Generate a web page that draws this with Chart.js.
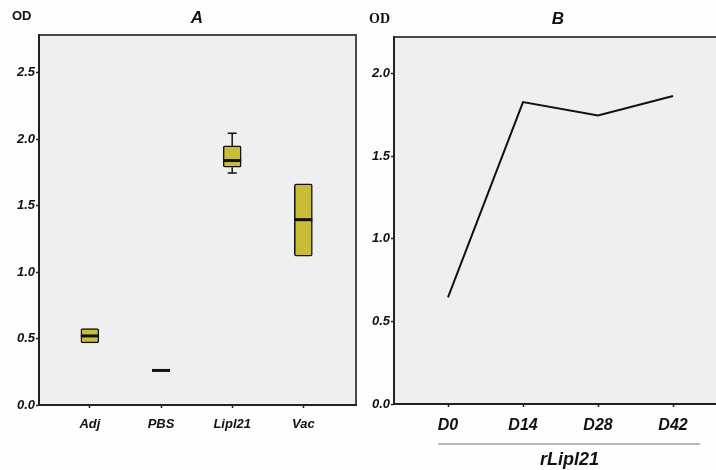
<!DOCTYPE html>
<html>
<head>
<meta charset="utf-8">
<script src="https://cdn.jsdelivr.net/npm/chart.js@4.4.0/dist/chart.umd.min.js"></script>
<style>
  html, body { margin: 0; padding: 0; background: #fdfdfd; }
  #wrap { position: relative; width: 716px; height: 470px; overflow: hidden; }
  canvas { position: absolute; top: 0; }
  #chartA { left: 0; }
  #chartB { left: 360px; }
</style>
</head>
<body>
<div id="wrap">
  <canvas id="chartA" width="360" height="470"></canvas>
  <canvas id="chartB" width="356" height="470"></canvas>
</div>
<script>
'use strict';

// Panel A: box plot summary per group
const groups = ['Adj', 'PBS', 'Lipl21', 'Vac'];
const whiskerLow = [0.468, 0.26, 1.747, 1.12];
const q1 = [0.468, 0.26, 1.79, 1.12];
const median = [0.52, 0.26, 1.84, 1.395];
const q3 = [0.575, 0.26, 1.95, 1.665];
const whiskerHigh = [0.575, 0.26, 2.045, 1.665];
const ticksA = [0, 0.5, 1.0, 1.5, 2.0, 2.5];

// Panel B: mean OD over time for rLipl21
const timepoints = ['D0', 'D14', 'D28', 'D42'];
const odMean = [0.645, 1.826, 1.745, 1.863];
const ticksB = [0, 0.5, 1.0, 1.5, 2.0];

const FONT = "'Liberation Sans', Arial, sans-serif";
const PLOT_BG = '#efefef';
const BOX_FILL = '#c9bd38';

/**
 * Fill the plot area and draw its frame
 */
const framePlugin = {
  id: 'frame',
  beforeDraw(chart, args, opts) {
    const { ctx, chartArea: a } = chart;
    ctx.save();
    ctx.fillStyle = PLOT_BG;
    ctx.fillRect(a.left, a.top, a.right - a.left, a.bottom - a.top);
    ctx.strokeStyle = '#4a4a4a';
    ctx.lineWidth = 2;
    ctx.beginPath();
    ctx.moveTo(a.left, a.bottom);
    ctx.lineTo(a.left, a.top);
    ctx.lineTo(opts.openRight ? chart.width + 5 : a.right, a.top);
    if (!opts.openRight) ctx.lineTo(a.right, a.bottom);
    ctx.stroke();
    ctx.restore();
  },
};

/**
 * Panel title and "OD" header
 */
const headerPlugin = {
  id: 'header',
  afterDraw(chart, args, opts) {
    const { ctx } = chart;
    ctx.save();
    ctx.fillStyle = '#111';
    ctx.textBaseline = 'middle';
    ctx.textAlign = 'center';
    ctx.font = `bold italic 17px ${FONT}`;
    ctx.fillText(opts.title, opts.titleX, opts.titleY);
    ctx.textAlign = 'left';
    ctx.font = opts.odFont;
    ctx.fillText('OD', opts.odX, opts.odY);
    ctx.restore();
  },
};

/**
 * Whiskers and median lines for the box plot
 */
const boxExtrasPlugin = {
  id: 'boxExtras',
  afterDatasetsDraw(chart) {
    const { ctx, scales } = chart;
    const xs = scales.x;
    const ys = scales.y;
    const half = 9;
    const cap = 4.5;
    ctx.save();
    ctx.strokeStyle = '#111';
    groups.forEach((g, i) => {
      const px = xs.getPixelForValue(i + 1);
      ctx.lineWidth = 1.5;
      if (whiskerHigh[i] > q3[i]) {
        const yTop = ys.getPixelForValue(whiskerHigh[i]);
        ctx.beginPath();
        ctx.moveTo(px, ys.getPixelForValue(q3[i]));
        ctx.lineTo(px, yTop);
        ctx.moveTo(px - cap, yTop);
        ctx.lineTo(px + cap, yTop);
        ctx.stroke();
      }
      if (whiskerLow[i] < q1[i]) {
        const yBot = ys.getPixelForValue(whiskerLow[i]);
        ctx.beginPath();
        ctx.moveTo(px, ys.getPixelForValue(q1[i]));
        ctx.lineTo(px, yBot);
        ctx.moveTo(px - cap, yBot);
        ctx.lineTo(px + cap, yBot);
        ctx.stroke();
      }
      // median
      const ym = ys.getPixelForValue(median[i]);
      ctx.lineWidth = 3;
      ctx.beginPath();
      ctx.moveTo(px - half, ym);
      ctx.lineTo(px + half, ym);
      ctx.stroke();
    });
    ctx.restore();
  },
};

/**
 * Group bracket and label under panel B
 */
const groupLabelPlugin = {
  id: 'groupLabel',
  afterDraw(chart) {
    const { ctx } = chart;
    const xs = chart.scales.x;
    const x0 = xs.getPixelForValue(-0.13);
    const x1 = xs.getPixelForValue(3.36);
    ctx.save();
    ctx.strokeStyle = '#777';
    ctx.lineWidth = 1.2;
    ctx.beginPath();
    ctx.moveTo(x0, 444);
    ctx.lineTo(x1, 444);
    ctx.stroke();
    ctx.fillStyle = '#111';
    ctx.font = `bold italic 18px ${FONT}`;
    ctx.textAlign = 'center';
    ctx.textBaseline = 'middle';
    ctx.fillText('rLipl21', xs.getPixelForValue(1.62), 460);
    ctx.restore();
  },
};

function axisCommon() {
  return {
    offset: false,
    grid: {
      offset: false,
      drawOnChartArea: false,
      drawTicks: true,
      tickLength: 3,
      color: '#222',
      tickWidth: 1.5,
    },
    border: { display: true, color: '#222', width: 2 },
  };
}

// Panel A chart
new Chart(document.getElementById('chartA'), {
  type: 'bar',
  data: {
    datasets: [{
      data: groups.map((g, i) => ({ x: i + 1, y: [q1[i], q3[i]] })),
      backgroundColor: BOX_FILL,
      borderColor: '#111',
      borderWidth: 1.5,
      borderSkipped: false,
      borderRadius: 2,
      barThickness: 18,
    }],
  },
  options: {
    responsive: false,
    animation: false,
    devicePixelRatio: 1,
    layout: { padding: { left: 0, right: 4, top: 35, bottom: 0 } },
    plugins: {
      legend: { display: false },
      tooltip: { enabled: false },
      frame: { openRight: false },
      header: {
        title: 'A', titleX: 197, titleY: 18,
        odFont: `bold 13px ${FONT}`, odX: 12, odY: 16,
      },
    },
    scales: {
      x: {
        type: 'linear',
        min: 0.285,
        max: 4.74,
        ...axisCommon(),
        afterBuildTicks: (scale) => { scale.ticks = groups.map((g, i) => ({ value: i + 1 })); },
        afterFit: (scale) => { scale.height = 65; },
        ticks: {
          padding: 9,
          color: '#111',
          font: { family: FONT, size: 13, weight: 'bold', style: 'italic' },
          callback: (v) => groups[v - 1] || '',
        },
      },
      y: {
        min: 0,
        max: 2.785,
        ...axisCommon(),
        afterBuildTicks: (scale) => { scale.ticks = ticksA.map((v) => ({ value: v })); },
        afterFit: (scale) => { scale.width = 39; },
        ticks: {
          padding: 1,
          color: '#111',
          font: { family: FONT, size: 13, weight: 'bold', style: 'italic' },
          callback: (v) => v.toFixed(1),
        },
      },
    },
  },
  plugins: [framePlugin, boxExtrasPlugin, headerPlugin],
});

// Panel B chart
new Chart(document.getElementById('chartB'), {
  type: 'line',
  data: {
    datasets: [{
      data: timepoints.map((t, i) => ({ x: i, y: odMean[i] })),
      borderColor: '#111',
      borderWidth: 2,
      pointRadius: 0,
      tension: 0,
      fill: false,
    }],
  },
  options: {
    responsive: false,
    animation: false,
    devicePixelRatio: 1,
    layout: { padding: { left: 0, right: 0, top: 37, bottom: 0 } },
    plugins: {
      legend: { display: false },
      tooltip: { enabled: false },
      frame: { openRight: true },
      header: {
        title: 'B', titleX: 198, titleY: 19,
        odFont: `bold 14px 'Liberation Serif', 'Times New Roman', serif`, odX: 9, odY: 19,
      },
    },
    scales: {
      x: {
        type: 'linear',
        min: -0.72,
        max: 3.573,
        ...axisCommon(),
        afterBuildTicks: (scale) => { scale.ticks = timepoints.map((t, i) => ({ value: i })); },
        afterFit: (scale) => { scale.height = 66; },
        ticks: {
          padding: 9,
          color: '#111',
          font: { family: FONT, size: 16, weight: 'bold', style: 'italic' },
          callback: (v) => timepoints[v] || '',
        },
      },
      y: {
        min: 0,
        max: 2.22,
        ...axisCommon(),
        afterBuildTicks: (scale) => { scale.ticks = ticksB.map((v) => ({ value: v })); },
        afterFit: (scale) => { scale.width = 34; },
        ticks: {
          padding: 1,
          color: '#111',
          font: { family: FONT, size: 13, weight: 'bold', style: 'italic' },
          callback: (v) => v.toFixed(1),
        },
      },
    },
  },
  plugins: [framePlugin, groupLabelPlugin, headerPlugin],
});
</script>
</body>
</html>
